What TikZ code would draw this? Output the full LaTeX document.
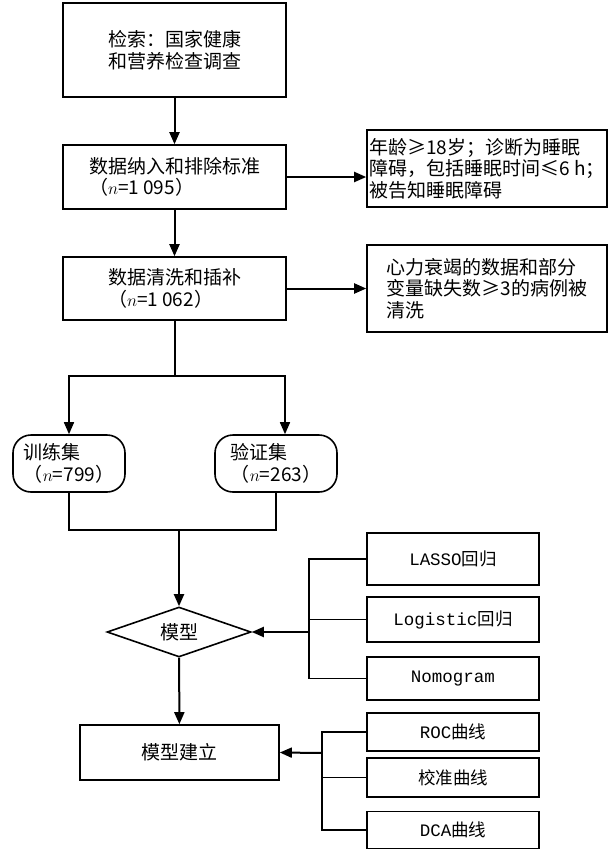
\documentclass[tikz,border=0pt]{standalone}
\usepackage{fontspec}
\newfontfamily\cjk{Noto Sans CJK SC}
\newfontfamily\mono{Liberation Mono}
\usetikzlibrary{shapes.geometric,arrows.meta}

\begin{document}
\begin{tikzpicture}[x=1pt,y=-1pt,
  box/.style={draw,line width=1.6pt,inner sep=0pt,align=left,font=\cjk\fontsize{19}{21.5}\selectfont},
  sidebox/.style={box,align=center,minimum width=172pt,font=\cjk\fontsize{17.5}{20}\selectfont},
  setbox/.style={box,rounded corners=18pt},
  main/.style={line width=2pt,-{Triangle[length=12pt,width=10pt]}},
  arr/.style={line width=1.5pt,-{Triangle[length=12pt,width=10pt]}},
  link/.style={line width=1.3pt}]
\useasboundingbox (0,0) rectangle (609,849);
\node[box,minimum width=223pt,minimum height=94pt] (search) at (174.5,50) {检索：国家健康\\和营养检查调查};
\node[box,minimum width=223pt,minimum height=64pt] (incl) at (174.5,177) {数据纳入和排除标准\\（$n$=1 095）};
\node[box,minimum width=223pt,minimum height=63pt] (clean) at (174.5,288.5) {数据清洗和插补\\（$n$=1 062）};
\node[box,minimum width=240pt,minimum height=77pt] (excl1) at (487,168.5) {年龄≥18岁；诊断为睡眠\\障碍，包括睡眠时间≤6 h；\\被告知睡眠障碍};
\node[box,minimum width=240pt,minimum height=87pt] (excl2) at (487,288.5) {心力衰竭的数据和部分\\变量缺失数≥3的病例被\\清洗};
\node[setbox,minimum width=112pt,minimum height=57pt] (train) at (69,463.5) {训练集\\（$n$=799）};
\node[setbox,minimum width=122pt,minimum height=57pt] (valid) at (276,463.5) {验证集\\（$n$=263）};
\node[draw,diamond,line width=1.6pt,aspect=2.88,minimum width=144pt,minimum height=50pt,inner sep=0pt,font=\cjk\fontsize{19}{21.5}\selectfont] (model) at (179,632) {模型};
\node[box,minimum width=199pt,minimum height=55pt] (build) at (179.5,752.5) {模型建立};
\node[sidebox,minimum height=52pt] (lasso) at (453,559) {{\mono LASSO}回归};
\node[sidebox,minimum height=45pt] (logit) at (453,619.5) {{\mono Logistic}回归};
\node[sidebox,minimum height=43pt] (nomo) at (453,678.5) {{\mono Nomogram}};
\node[sidebox,minimum height=38pt] (roc) at (453,732) {{\mono ROC}曲线};
\node[sidebox,minimum height=39pt] (calib) at (453,777.5) {校准曲线};
\node[sidebox,minimum height=37pt] (dca) at (453,830) {{\mono DCA}曲线};
\coordinate (split) at (174.5,376);
\coordinate (merge) at (179,530);
\coordinate (bus) at (309,632);
\coordinate (bus2) at (322,753);
\draw[main] (search) -- (incl);
\draw[main] (incl) -- (clean);
\draw[main] (incl.east) -- (incl.east -| excl1.west);
\draw[main] (clean) -- (excl2);
\draw[line width=2pt] (clean.south) -- (split);
\draw[arr] (split) -| (train.north);
\draw[arr] (split) -| ([xshift=9pt]valid.north);
\draw[link] (train.south) |- (merge) -| (valid.south);
\draw[main] (merge) -- (model.north);
\draw[link] (lasso.west) -| (bus) |- (nomo.west);
\draw[link] (logit.west) -- (logit.west -| bus);
\draw[main] (bus) -- (model.east);
\draw[main] (model) -- (build);
\draw[link] (roc.west) -| (bus2) |- (dca.west);
\draw[link] (calib.west) -- (calib.west -| bus2);
\draw[main] (bus2) -- (build.east);
\end{tikzpicture}
\end{document}
